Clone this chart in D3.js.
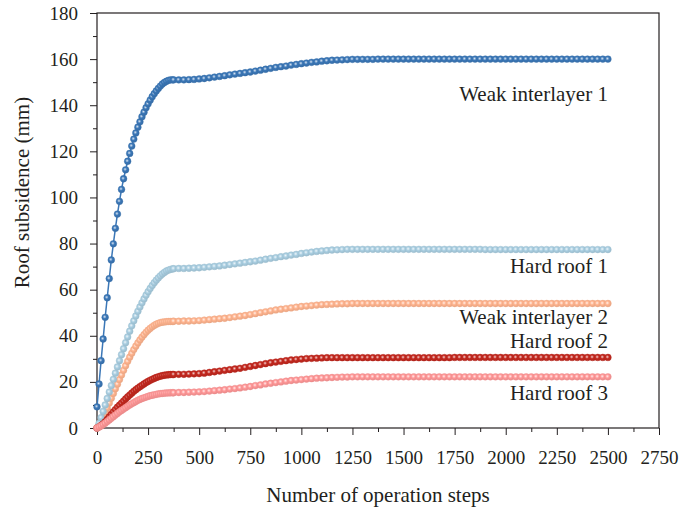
<!DOCTYPE html>
<html>
<head>
<meta charset="utf-8">
<script src="https://cdn.jsdelivr.net/npm/d3@7"></script>
<style>
  body { margin: 0; background: #fff; }
  svg text { font-family: "Liberation Serif", "Times New Roman", serif; fill: #231f20; }
  .axis path, .axis line { stroke: #231f20; }
</style>
</head>
<body>
<div id="chart"></div>
<script>
// operation steps: every 10 steps up to 370, then every 25 steps up to 2500
const steps = d3.range(0, 380, 10).concat(d3.range(375, 2501, 25));

const seriesNames = ["Weak interlayer 2", "Hard roof 1", "Hard roof 2", "Hard roof 3", "Weak interlayer 1"];
const seriesColors = ["#ffb48f", "#a9cee1", "#c3281f", "#ff9797", "#3b77b7"];

const weak1 = [
  9.2, 19.1, 29.2, 38.6, 48.0, 56.5, 64.8, 72.9, 79.9, 86.6,
  92.8, 98.3, 103.5, 108.1, 112.0, 115.7, 119.1, 122.3, 125.3, 128.0,
  130.5, 132.8, 135.0, 137.0, 138.9, 140.6, 142.2, 143.7, 145.0, 146.2,
  147.3, 148.3, 149.2, 149.9, 150.4, 150.8, 151.0, 151.0,
  151.0, 151.0, 151.0, 151.1, 151.2,
  151.4, 151.6, 151.9, 152.2,
  152.5, 152.8, 153.2, 153.5,
  153.8, 154.1, 154.4, 154.8,
  155.2, 155.6, 156.0, 156.4,
  156.7, 157.0, 157.4, 157.7,
  158.0, 158.3, 158.6, 158.8,
  159.1, 159.3, 159.5, 159.6,
  159.7, 159.8, 159.9, 159.9,
  159.9, 159.9, 159.9, 160.0,
  160.0, 160.0, 160.0, 160.0,
  160.0, 160.0, 160.0, 160.0,
  160.0, 160.0, 160.0, 160.0,
  160.0, 160.0, 160.0, 160.0,
  160.0, 160.0, 160.0, 160.0,
  160.0, 160.0, 160.0, 160.0,
  160.0, 160.0, 160.0, 160.0,
  160.0, 160.0, 160.0, 160.0,
  160.0, 160.0, 160.0, 160.0,
  160.0, 160.0, 160.0, 160.0,
  160.0, 160.0, 160.0, 160.0,
  160.0
];

const hard1 = [
  0, 2.0, 4.5, 7.2, 10.0, 12.8, 15.6, 18.4, 21.1, 23.8,
  26.5, 29.2, 31.8, 34.4, 37.0, 39.5, 42.0, 44.3, 46.5, 48.6,
  50.6, 52.5, 54.3, 56.0, 57.6, 59.1, 60.5, 61.8, 63.0, 64.1,
  65.1, 66.0, 66.8, 67.5, 68.1, 68.5, 68.8, 69.0,
  69.1, 69.2, 69.2, 69.3, 69.4,
  69.5, 69.7, 69.9, 70.1,
  70.3, 70.6, 70.9, 71.2,
  71.5, 71.8, 72.1, 72.4,
  72.8, 73.2, 73.6, 73.9,
  74.3, 74.6, 75.0, 75.3,
  75.7, 76.0, 76.3, 76.6,
  76.8, 77.0, 77.2, 77.3,
  77.4, 77.5, 77.5, 77.5,
  77.5, 77.5, 77.5, 77.5,
  77.5, 77.5, 77.5, 77.5,
  77.5, 77.5, 77.5, 77.5,
  77.5, 77.5, 77.5, 77.5,
  77.5, 77.5, 77.5, 77.5,
  77.5, 77.5, 77.5, 77.5,
  77.4, 77.4, 77.4, 77.4,
  77.4, 77.4, 77.4, 77.4,
  77.4, 77.4, 77.4, 77.4,
  77.4, 77.4, 77.4, 77.4,
  77.4, 77.4, 77.4, 77.4,
  77.4, 77.4, 77.4, 77.4,
  77.4
];

const weak2 = [
  0, 1.2, 2.8, 4.6, 6.6, 8.6, 10.8, 12.9, 15.0, 17.0,
  19.0, 21.0, 23.0, 25.0, 27.0, 28.9, 30.7, 32.4, 34.0, 35.5,
  36.9, 38.2, 39.4, 40.5, 41.5, 42.4, 43.2, 43.9, 44.5, 45.0,
  45.4, 45.7, 45.9, 46.0, 46.1, 46.2, 46.2, 46.2,
  46.3, 46.3, 46.4, 46.4, 46.5,
  46.6, 46.8, 47.0, 47.2,
  47.4, 47.6, 47.9, 48.2,
  48.5, 48.8, 49.2, 49.6,
  50.0, 50.4, 50.8, 51.2,
  51.5, 51.8, 52.1, 52.4,
  52.7, 52.9, 53.1, 53.3,
  53.5, 53.6, 53.7, 53.8,
  53.9, 53.9, 54.0, 54.0,
  54.0, 54.0, 54.0, 54.0,
  54.0, 54.0, 54.0, 54.0,
  54.0, 54.0, 54.0, 54.0,
  54.0, 54.0, 54.0, 54.0,
  54.0, 54.0, 54.0, 54.0,
  54.0, 54.0, 54.0, 54.0,
  54.0, 54.0, 54.0, 54.0,
  54.0, 54.0, 54.0, 54.0,
  54.0, 54.0, 54.0, 54.0,
  54.0, 54.0, 54.0, 54.0,
  54.0, 54.0, 54.0, 54.0,
  54.0, 54.0, 54.0, 54.0,
  54.0
];

const hard2 = [
  0, 0.5, 1.1, 1.8, 2.7, 3.7, 4.8, 5.9, 7.0, 8.0,
  9.0, 9.9, 10.8, 11.7, 12.6, 13.5, 14.3, 15.1, 15.9, 16.6,
  17.3, 17.9, 18.5, 19.1, 19.7, 20.2, 20.7, 21.1, 21.5, 21.9,
  22.2, 22.5, 22.7, 22.9, 23.0, 23.1, 23.2, 23.2,
  23.2, 23.3, 23.3, 23.4, 23.5,
  23.6, 23.8, 24.1, 24.4,
  24.7, 25.0, 25.3, 25.6,
  25.9, 26.3, 26.7, 27.1,
  27.5, 27.9, 28.3, 28.6,
  28.9, 29.2, 29.5, 29.7,
  29.9, 30.1, 30.2, 30.3,
  30.4, 30.5, 30.5, 30.5,
  30.5, 30.5, 30.5, 30.5,
  30.5, 30.5, 30.5, 30.5,
  30.5, 30.5, 30.5, 30.5,
  30.5, 30.5, 30.5, 30.5,
  30.5, 30.5, 30.5, 30.5,
  30.5, 30.5, 30.6, 30.6,
  30.6, 30.6, 30.6, 30.6,
  30.6, 30.6, 30.6, 30.6,
  30.6, 30.6, 30.6, 30.6,
  30.6, 30.6, 30.6, 30.6,
  30.6, 30.6, 30.6, 30.6,
  30.6, 30.6, 30.6, 30.6,
  30.6, 30.6, 30.6, 30.6,
  30.6
];

const hard3 = [
  0, 0.4, 0.9, 1.5, 2.1, 2.8, 3.5, 4.2, 4.9, 5.6,
  6.3, 7.0, 7.6, 8.2, 8.8, 9.4, 10.0, 10.5, 11.0, 11.5,
  12.0, 12.4, 12.8, 13.1, 13.4, 13.7, 14.0, 14.2, 14.4, 14.6,
  14.8, 14.9, 15.0, 15.1, 15.2, 15.2, 15.3, 15.3,
  15.3, 15.4, 15.4, 15.5, 15.6,
  15.7, 15.8, 16.0, 16.2,
  16.4, 16.6, 16.9, 17.1,
  17.4, 17.7, 18.0, 18.4,
  18.7, 19.1, 19.4, 19.7,
  20.0, 20.3, 20.6, 20.8,
  21.0, 21.2, 21.4, 21.6,
  21.7, 21.8, 21.9, 22.0,
  22.1, 22.1, 22.2, 22.2,
  22.2, 22.2, 22.2, 22.2,
  22.2, 22.2, 22.2, 22.2,
  22.2, 22.2, 22.2, 22.2,
  22.2, 22.2, 22.2, 22.2,
  22.2, 22.2, 22.2, 22.2,
  22.2, 22.2, 22.2, 22.2,
  22.2, 22.2, 22.2, 22.2,
  22.2, 22.2, 22.2, 22.2,
  22.2, 22.2, 22.2, 22.2,
  22.2, 22.2, 22.2, 22.2,
  22.2, 22.2, 22.2, 22.2,
  22.2, 22.2, 22.2, 22.2,
  22.2
];

const seriesValues = [weak2, hard1, hard2, hard3, weak1];

const xTicks = d3.range(0, 2751, 250);
const xMinorTicks = d3.range(125, 2750, 250);
const yTicks = d3.range(0, 181, 20);
const yMinorTicks = d3.range(10, 180, 20);

// annotation text, top to bottom, with the value where each baseline sits
const labelTexts = ["Weak interlayer 1", "Hard roof 1", "Weak interlayer 2", "Hard roof 2", "Hard roof 3"];
const labelAt = [141.8, 67.1, 45.1, 34.6, 12.1];

const margin = { top: 13, right: 22, bottom: 85, left: 97 };
const W = 681, H = 513;
const width = W - margin.left - margin.right;
const height = H - margin.top - margin.bottom;

const svgRoot = d3.select("#chart").append("svg").attr("width", W).attr("height", H);
const svg = svgRoot.append("g").attr("transform", `translate(${margin.left},${margin.top})`);

const x = d3.scaleLinear().domain([0, 2750]).range([0, width]);
const y = d3.scaleLinear().domain([0, 180]).range([height, 0]);

// sphere-like marker fills
const defs = svgRoot.append("defs");
seriesColors.forEach((c, i) => {
  const g = defs.append("radialGradient").attr("id", `ball${i}`)
    .attr("cx", "0.42").attr("cy", "0.42").attr("r", "0.6");
  g.append("stop").attr("offset", "0%").attr("stop-color", d3.interpolateRgb(c, "#fff")(0.8));
  g.append("stop").attr("offset", "45%").attr("stop-color", c);
  g.append("stop").attr("offset", "100%").attr("stop-color", d3.color(c).darker(0.3));
});

// minor ticks
svg.append("g").attr("class", "axis")
  .attr("transform", `translate(0,${height})`)
  .call(d3.axisBottom(x).tickValues(xMinorTicks).tickSize(4).tickSizeOuter(0).tickFormat(""));
svg.append("g").attr("class", "axis")
  .call(d3.axisLeft(y).tickValues(yMinorTicks).tickSize(4).tickSizeOuter(0).tickFormat(""));

svg.append("g").attr("class", "axis")
  .attr("transform", `translate(0,${height})`)
  .call(d3.axisBottom(x).tickValues(xTicks).tickSize(7).tickSizeOuter(0).tickPadding(16).tickFormat(d3.format("d")));
svg.append("g").attr("class", "axis")
  .call(d3.axisLeft(y).tickValues(yTicks).tickSize(7).tickSizeOuter(0).tickPadding(12).tickFormat(d3.format("d")));

svg.selectAll(".axis text").style("font-size", "19px").attr("font-family", null);
svg.selectAll(".axis path").remove();

// frame
svg.append("rect").attr("x", 0).attr("y", 0).attr("width", width).attr("height", height)
  .attr("fill", "none").attr("stroke", "#231f20").attr("stroke-width", 1.2);

const line = d3.line().x((d) => x(d[0])).y((d) => y(d[1]));

seriesValues.forEach((vals, i) => {
  const pts = steps.map((s, j) => [s, vals[j]]);
  const g = svg.append("g").attr("class", "series");
  g.append("path").datum(pts).attr("d", line)
    .attr("fill", "none").attr("stroke", seriesColors[i]).attr("stroke-width", 1.5);
  g.selectAll("circle").data(pts).join("circle")
    .attr("cx", (d) => x(d[0])).attr("cy", (d) => y(d[1])).attr("r", 3.4)
    .attr("fill", `url(#ball${i})`)
    .attr("stroke", d3.color(seriesColors[i]).darker(0.15)).attr("stroke-width", 0.4);
});

labelTexts.forEach((t, i) => {
  svg.append("text").attr("x", x(2500)).attr("y", y(labelAt[i]))
    .attr("text-anchor", "end").style("font-size", "21px").text(t);
});

svg.append("text").attr("x", width / 2).attr("y", height + 74)
  .attr("text-anchor", "middle").style("font-size", "21px").text("Number of operation steps");

svg.append("text").attr("transform", `translate(${22 - margin.left},${height / 2 - 28}) rotate(-90)`)
  .attr("text-anchor", "middle").attr("dy", "0.35em").style("font-size", "21px").text("Roof subsidence (mm)");
</script>
</body>
</html>
